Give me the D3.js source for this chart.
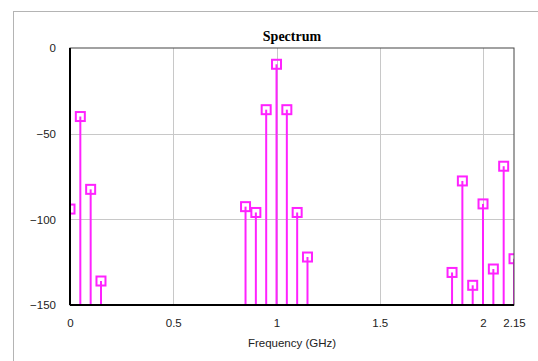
<!DOCTYPE html>
<html>
<head>
<meta charset="utf-8">
<script src="https://cdn.jsdelivr.net/npm/d3@7"></script>
<style>
  body { margin: 0; background: #fff; }
  svg { display: block; }
</style>
</head>
<body>
<div id="chart"></div>
<script>
// spectrum values (GHz, dB)
var freqs = [0, 0.05, 0.1, 0.15,
             0.85, 0.9, 0.95, 1.0, 1.05, 1.1, 1.15,
             1.85, 1.9, 1.95, 2.0, 2.05, 2.1, 2.15];
var levels = [-94, -40, -82.5, -136,
              -92.6, -96, -36, -9.5, -36, -96, -122,
              -131, -77.6, -138.5, -91, -129, -69, -123];
var xTicks = [0, 0.5, 1, 1.5, 2, 2.15];
var yTicks = [0, -50, -100, -150];

var data = freqs.map(function(f, i) { return {f: f, v: levels[i]}; });

var svg = d3.select("#chart").append("svg")
    .attr("width", 538)
    .attr("height", 361);

// outer chart frame
svg.append("rect")
    .attr("x", 13.5).attr("y", 11.5)
    .attr("width", 560).attr("height", 400)
    .attr("fill", "none")
    .attr("stroke", "#b4b4b4");

var margin = {top: 48, left: 70, right: 24, bottom: 56};
var width = 538 - margin.left - margin.right,
    height = 361 - margin.top - margin.bottom;

var g = svg.append("g")
    .attr("transform", "translate(" + margin.left + "," + margin.top + ")");

var x = d3.scaleLinear().domain([0, 2.15]).range([0, width]);
var y = d3.scaleLinear().domain([-150, 0]).range([height, 0]);

svg.append("defs").append("clipPath").attr("id", "plot-clip")
    .append("rect").attr("width", width).attr("height", height);

// grid
g.append("g").selectAll("line")
    .data([0.5, 1, 1.5, 2])
    .enter().append("line")
    .attr("x1", function(d) { return Math.round(x(d)) + 0.5; })
    .attr("x2", function(d) { return Math.round(x(d)) + 0.5; })
    .attr("y1", 0).attr("y2", height)
    .attr("stroke", "#c8c8c8");

g.append("g").selectAll("line")
    .data([-50, -100])
    .enter().append("line")
    .attr("y1", function(d) { return Math.round(y(d)) + 0.5; })
    .attr("y2", function(d) { return Math.round(y(d)) + 0.5; })
    .attr("x1", 0).attr("x2", width)
    .attr("stroke", "#c8c8c8");

// stems and markers
var marks = g.append("g").attr("clip-path", "url(#plot-clip)");

marks.selectAll("line")
    .data(data)
    .enter().append("line")
    .attr("x1", function(d) { return x(d.f); })
    .attr("x2", function(d) { return x(d.f); })
    .attr("y1", height)
    .attr("y2", function(d) { return y(d.v); })
    .attr("stroke", "#ff22ff")
    .attr("stroke-width", 2);

marks.selectAll("rect")
    .data(data)
    .enter().append("rect")
    .attr("x", function(d) { return x(d.f) - 4.5; })
    .attr("y", function(d) { return y(d.v) - 4.5; })
    .attr("width", 9).attr("height", 9)
    .attr("fill", "none")
    .attr("stroke", "#ff22ff")
    .attr("stroke-width", 2);

// plot border
g.append("rect")
    .attr("width", width).attr("height", height)
    .attr("fill", "none")
    .attr("stroke", "#444")
    .attr("stroke-width", 1);
g.append("line").attr("x1", 0).attr("x2", 0).attr("y1", 0).attr("y2", height)
    .attr("stroke", "#000").attr("stroke-width", 2);
g.append("line").attr("x1", 0).attr("x2", width).attr("y1", height).attr("y2", height)
    .attr("stroke", "#000").attr("stroke-width", 2);

// axes (labels only)
var xAxis = g.append("g")
    .attr("transform", "translate(0," + height + ")")
    .call(d3.axisBottom(x).tickValues(xTicks).tickSize(0).tickPadding(14)
        .tickFormat(function(d) { return d3.format("")(d); }));
var yAxis = g.append("g")
    .call(d3.axisLeft(y).tickValues(yTicks).tickSize(0).tickPadding(14));
[xAxis, yAxis].forEach(function(a) {
    a.select(".domain").remove();
    a.selectAll("text")
        .attr("font-family", "Liberation Sans, Arial, sans-serif")
        .attr("font-size", 11.5)
        .attr("fill", "#222");
});

g.append("text")
    .attr("x", width / 2)
    .attr("y", height + 42)
    .attr("text-anchor", "middle")
    .attr("font-family", "Liberation Sans, Arial, sans-serif")
    .attr("font-size", 11.5)
    .attr("fill", "#222")
    .text("Frequency (GHz)");

g.append("text")
    .attr("x", width / 2)
    .attr("y", -7)
    .attr("text-anchor", "middle")
    .attr("font-family", "Liberation Serif, Times New Roman, serif")
    .attr("font-weight", "bold")
    .attr("font-size", 14)
    .text("Spectrum");
</script>
</body>
</html>
